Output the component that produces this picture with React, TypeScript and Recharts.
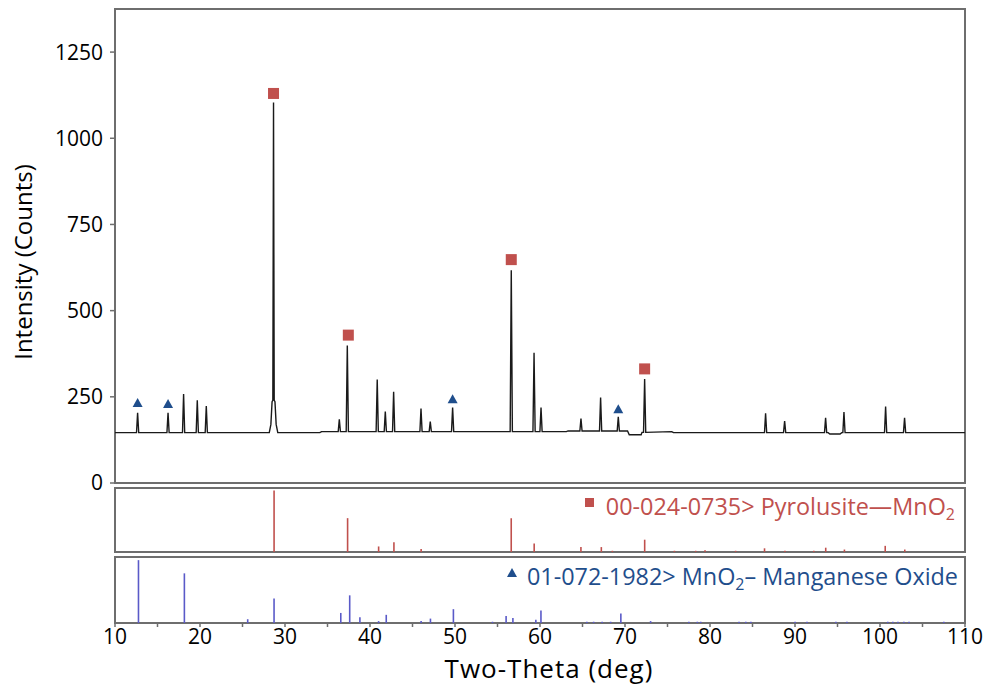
import React from 'react';
import { ComposedChart, Line, Scatter, Bar, XAxis, YAxis, ReferenceArea } from 'recharts';

const FONT = '"Open Sans", "Noto Sans", sans-serif';
const FRAME = '#6e6e6e';
const RED = '#c0504d';
const NAVY = '#1f4e8c';
const VIOLET = '#5a5ac8';

// background level of the scan, as (2θ, counts) knots
const backgroundKnots: [number, number][] = [
  [10, 146], [34.1, 146], [34.3, 149], [63.1, 149], [63.3, 151], [70.3, 151], [70.5, 140],
  [71.9, 140], [72.0, 147], [75.5, 149], [75.7, 146], [93.9, 146], [94.1, 142], [95.3, 142],
  [95.5, 146], [110, 146],
];

// measured reflections: position (2θ) and peak counts
const peakPositions = [
  12.66, 16.24, 18.07, 19.68, 20.74, 28.65, 36.39, 37.33, 40.85, 41.8, 42.78, 46.0, 47.09,
  49.72, 56.62, 59.3, 60.12, 64.82, 67.13, 69.21, 72.31, 86.54, 88.78, 93.6, 95.76, 100.66, 102.89,
];
const peakCounts = [
  204, 204, 258, 240, 223, 1104, 185, 399, 300, 207, 265, 216, 178,
  219, 617, 378, 219, 187, 248, 192, 302, 202, 180, 189, 206, 222, 189,
];

// broad foot under the strongest reflection
const mainPeakFoot: [number, number][] = [
  [28.15, 146], [28.34, 170], [28.48, 236], [28.82, 236], [28.96, 170], [29.15, 146],
];

// phase markers placed above the identified peaks
const pyrolusiteMarks: [number, number][] = [[28.65, 1130], [37.45, 429], [56.62, 648], [72.31, 331]];
const manganeseOxideMarks: [number, number][] = [[12.66, 232], [16.24, 229], [49.72, 243], [69.21, 214]];

// reference card 00-024-0735 (Pyrolusite) : 2θ and relative intensity
const pyrolusitePos = [
  28.7, 37.35, 41.0, 42.8, 46.0, 56.6, 59.3, 64.8, 67.2, 68.5, 72.3, 75.8, 78.3, 79.4,
  83.0, 86.4, 88.8, 92.2, 93.6, 95.8, 100.6, 102.9,
];
const pyrolusiteRel = [
  100, 55, 9, 16, 5, 55, 14, 8, 8, 2, 20, 2, 2, 3,
  2, 6, 2, 2, 7, 4, 10, 4,
];

// reference card 01-072-1982 (MnO2) : 2θ and relative intensity
const mno2Pos = [
  12.75, 18.15, 25.6, 28.7, 36.55, 37.6, 38.8, 41.0, 41.9, 46.0, 47.1, 49.8, 54.4, 56.0,
  56.8, 59.5, 60.1, 65.5, 66.3, 67.3, 68.3, 69.5, 73.0, 77.5, 78.5, 78.9, 83.4, 84.2,
  84.8, 90.0, 91.4, 94.8, 96.1, 100.9, 101.5, 102.1, 102.8, 103.4, 107.5,
];
const mno2Rel = [
  100, 79, 6, 39, 16, 44, 9, 3, 13, 3, 7, 22, 2, 11,
  8, 5, 20, 2, 2, 2, 2, 15, 3, 2, 2, 2, 2, 2,
  2, 2, 2, 2, 2, 2, 2, 2, 2, 2, 2,
];

const countTicks = [0, 250, 500, 750, 1000, 1250];
const thetaTicks = [10, 15, 20, 25, 30, 35, 40, 45, 50, 55, 60, 65, 70, 75, 80, 85, 90, 95, 100, 105, 110];

const backgroundAt = (t: number) => {
  let level = backgroundKnots[0][1];
  for (const [x, y] of backgroundKnots) if (x <= t) level = y;
  return level;
};

const pattern = (() => {
  const pts: { x: number; y: number }[] = backgroundKnots.map(([x, y]) => ({ x, y }));
  peakPositions.forEach((p, i) => {
    if (p === 28.65) {
      pts.push({ x: p - 0.08, y: 240 }, { x: p, y: peakCounts[i] }, { x: p + 0.08, y: 240 });
      return;
    }
    const b = backgroundAt(p);
    pts.push({ x: p - 0.13, y: b }, { x: p, y: peakCounts[i] }, { x: p + 0.13, y: b });
  });
  mainPeakFoot.forEach(([x, y]) => pts.push({ x, y }));
  return pts.sort((a, b) => a.x - b.x);
})();

const pyroSticks = pyrolusitePos.map((x, i) => ({ x, rel: pyrolusiteRel[i] }));
const mno2Sticks = mno2Pos.map((x, i) => ({ x, rel: mno2Rel[i] }));

const toXY = (arr: [number, number][]) => arr.map(([x, y]) => ({ x, y }));

const SquareMark = (props: any) => (
  <rect x={props.cx - 5.5} y={props.cy - 5.5} width={11} height={11} fill={RED} />
);
const TriangleMark = (props: any) => (
  <polygon
    points={`${props.cx - 5},${props.cy + 4} ${props.cx + 5},${props.cy + 4} ${props.cx},${props.cy - 5}`}
    fill={NAVY}
  />
);

const PLOT_LEFT = 115;
const PLOT_RIGHT = 22;

export default function App() {
  return (
    <div style={{ position: 'absolute', left: 0, top: 0, width: 987, height: 685, background: '#fff', fontFamily: FONT }}>
      {/* measured scan */}
      <div style={{ position: 'absolute', left: 0, top: 0 }}>
        <ComposedChart width={987} height={500} margin={{ top: 9, right: PLOT_RIGHT, bottom: 17, left: 0 }}>
          <XAxis type="number" dataKey="x" domain={[10, 110]} hide allowDataOverflow />
          <YAxis
            type="number"
            dataKey="y"
            domain={[0, 1375]}
            ticks={countTicks}
            interval={0}
            width={PLOT_LEFT}
            axisLine={false}
            tickSize={5}
            tickMargin={7}
            tickLine={{ stroke: FRAME, strokeWidth: 1.5 }}
            tick={{ fontSize: 21, fill: '#000', fontFamily: FONT }}
          />
          <ReferenceArea x1={10} x2={110} y1={0} y2={1375} fill="none" stroke={FRAME} strokeWidth={2} ifOverflow="visible" />
          <Line data={pattern} dataKey="y" type="linear" stroke="#1a1a1a" strokeWidth={1.4} dot={false} activeDot={false} isAnimationActive={false} />
          <Scatter data={toXY(pyrolusiteMarks)} dataKey="y" shape={SquareMark} isAnimationActive={false} />
          <Scatter data={toXY(manganeseOxideMarks)} dataKey="y" shape={TriangleMark} isAnimationActive={false} />
        </ComposedChart>
      </div>

      {/* Pyrolusite stick pattern */}
      <div style={{ position: 'absolute', left: 0, top: 480 }}>
        <ComposedChart data={pyroSticks} width={987} height={80} margin={{ top: 8, right: PLOT_RIGHT, bottom: 8, left: PLOT_LEFT }}>
          <XAxis type="number" dataKey="x" domain={[10, 110]} hide />
          <YAxis type="number" domain={[0, 104]} hide />
          <ReferenceArea x1={10} x2={110} y1={0} y2={104} fill="none" stroke={FRAME} strokeWidth={2} ifOverflow="visible" />
          <Bar dataKey="rel" fill={RED} barSize={1.6} isAnimationActive={false} />
        </ComposedChart>
      </div>

      {/* MnO2 stick pattern with the shared 2θ axis */}
      <div style={{ position: 'absolute', left: 0, top: 550 }}>
        <ComposedChart data={mno2Sticks} width={987} height={135} margin={{ top: 7, right: PLOT_RIGHT, bottom: 0, left: PLOT_LEFT }}>
          <XAxis
            type="number"
            dataKey="x"
            domain={[10, 110]}
            ticks={thetaTicks}
            interval={0}
            height={62}
            axisLine={false}
            tickSize={4}
            tickMargin={2}
            tickLine={{ stroke: FRAME, strokeWidth: 1.5 }}
            tick={{ fontSize: 21, fill: '#000', fontFamily: FONT }}
            tickFormatter={(v: number) => (v % 10 === 0 ? String(v) : '')}
          />
          <YAxis type="number" domain={[0, 105]} hide />
          <ReferenceArea x1={10} x2={110} y1={0} y2={105} fill="none" stroke={FRAME} strokeWidth={2} ifOverflow="visible" />
          <Bar dataKey="rel" fill={VIOLET} barSize={1.6} isAnimationActive={false} />
        </ComposedChart>
      </div>

      {/* titles and phase legends */}
      <svg width={987} height={685} style={{ position: 'absolute', left: 0, top: 0, pointerEvents: 'none' }}>
        <text transform="rotate(-90)" x={-262} y={32} textAnchor="middle" fontSize={24} fontFamily={FONT} fill="#000">
          Intensity (Counts)
        </text>
        <text x={549} y={678} textAnchor="middle" fontSize={26} letterSpacing={1} fontFamily={FONT} fill="#000">
          Two-Theta (deg)
        </text>
        <rect x={585} y={498} width={9} height={9} fill={RED} />
        <text x={955} y={515} textAnchor="end" fontSize={23.4} fontFamily={FONT} fill={RED}>
          00-024-0735&gt; Pyrolusite—MnO<tspan dy={5} fontSize={16}>2</tspan>
        </text>
        <polygon points="507,577 517,577 512,568" fill={NAVY} />
        <text x={958} y={585} textAnchor="end" fontSize={23.4} fontFamily={FONT} fill={NAVY}>
          01-072-1982&gt; MnO<tspan dy={5} fontSize={16}>2</tspan>
          <tspan dy={-5}>– Manganese Oxide</tspan>
        </text>
      </svg>
    </div>
  );
}
